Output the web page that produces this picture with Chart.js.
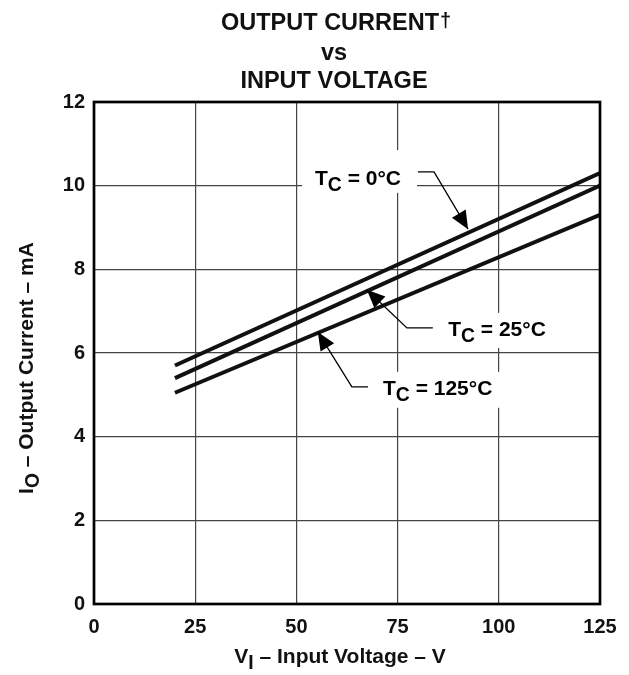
<!DOCTYPE html>
<html><head><meta charset="utf-8">
<script src="https://cdn.jsdelivr.net/npm/chart.js@4/dist/chart.umd.min.js"></script>
<style>html,body{margin:0;padding:0;background:#fff}#wrap{width:629px;height:675px}</style>
</head><body><div id="wrap"><canvas id="c" width="629" height="675"></canvas></div>
<script>
// ---- data ----
const xTicks = [0, 25, 50, 75, 100, 125];
const yTicks = [0, 2, 4, 6, 8, 10, 12];
const voltage = [20, 125];
const current0C = [5.7, 10.3];
const current25C = [5.4, 10.0];
const current125C = [5.05, 9.3];
const seriesNames = ['T_C = 0°C', 'T_C = 25°C', 'T_C = 125°C'];
const titleLines = ['OUTPUT CURRENT', 'vs', 'INPUT VOLTAGE'];

// ---- annotation layout (data units) ----
const notes = [
  { parts: [['T'], ['C', 1], [' = 0°C']], tx: 54.6, ty: 10.02, box: [51.4, 79.8, 10.85, 9.83],
    path: [[80, 10.33], [84, 10.33], [92.4, 8.96]] },
  { parts: [['T'], ['C', 1], [' = 25°C']], tx: 87.5, ty: 6.41, box: [84.5, 115.1, 6.96, 6.12],
    path: [[83.7, 6.6], [77.3, 6.6], [67.4, 7.51]] },
  { parts: [['T'], ['C', 1], [' = 125°C']], tx: 71.4, ty: 5.0, box: [68.2, 101.5, 5.55, 4.69],
    path: [[67.7, 5.19], [63.7, 5.19], [55.3, 6.5]] }
];

const F = '"Liberation Sans", Arial, Helvetica, sans-serif';

function runWidth(ctx, parts, size) {
  let w = 0;
  for (const p of parts) {
    ctx.font = `bold ${p[1] ? size * 0.92 : size}px ${F}`;
    w += ctx.measureText(p[0]).width;
  }
  return w;
}
function drawRuns(ctx, parts, x, y, size) {
  let cx = x;
  ctx.textAlign = 'left';
  ctx.textBaseline = 'alphabetic';
  for (const p of parts) {
    ctx.font = `bold ${p[1] ? size * 0.92 : size}px ${F}`;
    ctx.fillText(p[0], cx, y + (p[1] ? size * 0.3 : 0));
    cx += ctx.measureText(p[0]).width;
  }
}
function arrowHead(ctx, x0, y0, x1, y1, len, hw) {
  const a = Math.atan2(y1 - y0, x1 - x0);
  const bx = x1 - len * Math.cos(a), by = y1 - len * Math.sin(a);
  ctx.beginPath();
  ctx.moveTo(x1, y1);
  ctx.lineTo(bx + hw * Math.sin(a), by - hw * Math.cos(a));
  ctx.lineTo(bx - hw * Math.sin(a), by + hw * Math.cos(a));
  ctx.closePath();
  ctx.fill();
}

const deco = {
  id: 'deco',
  beforeDatasetsDraw(chart) {
    const { ctx, scales: { x, y } } = chart;
    ctx.save();
    ctx.fillStyle = '#fff';
    for (const n of notes) {
      const x0 = x.getPixelForValue(n.box[0]), x1 = x.getPixelForValue(n.box[1]);
      const y0 = y.getPixelForValue(n.box[2]), y1 = y.getPixelForValue(n.box[3]);
      ctx.fillRect(x0, y0, x1 - x0, y1 - y0);
    }
    ctx.restore();
  },
  afterDatasetsDraw(chart) {
    const { ctx, chartArea: ca, scales: { x, y } } = chart;
    ctx.save();
    // frame
    ctx.strokeStyle = '#000';
    ctx.lineWidth = 2.7;
    ctx.strokeRect(ca.left, ca.top, ca.right - ca.left, ca.bottom - ca.top);
    // annotations
    ctx.fillStyle = '#000';
    for (const n of notes) {
      drawRuns(ctx, n.parts, x.getPixelForValue(n.tx), y.getPixelForValue(n.ty), 21);
      const pts = n.path.map(p => [x.getPixelForValue(p[0]), y.getPixelForValue(p[1])]);
      ctx.lineWidth = 1.3;
      ctx.beginPath();
      ctx.moveTo(pts[0][0], pts[0][1]);
      for (let i = 1; i < pts.length; i++) ctx.lineTo(pts[i][0], pts[i][1]);
      ctx.stroke();
      const a = pts[pts.length - 2], b = pts[pts.length - 1];
      arrowHead(ctx, a[0], a[1], b[0], b[1], 18, 8);
    }
    ctx.restore();
  },
  afterDraw(chart) {
    const { ctx } = chart;
    ctx.save();
    ctx.fillStyle = '#111';
    ctx.textBaseline = 'alphabetic';
    // title
    ctx.font = `bold 23.5px ${F}`;
    ctx.textAlign = 'center';
    ctx.fillText(titleLines[0], 330, 30);
    const w0 = ctx.measureText(titleLines[0]).width;
    ctx.textAlign = 'left';
    ctx.font = `bold 20px ${F}`;
    ctx.fillText('†', 330 + w0 / 2 + 1, 27);
    ctx.font = `bold 23.5px ${F}`;
    ctx.textAlign = 'center';
    ctx.fillText(titleLines[1], 334, 60);
    ctx.fillText(titleLines[2], 334, 88);
    // x axis title
    const xParts = [['V'], ['I', 1], [' – Input Voltage – V']];
    const xw = runWidth(ctx, xParts, 21);
    drawRuns(ctx, xParts, 340 - xw / 2, 663, 21);
    // y axis title
    const yParts = [['I'], ['O', 1], [' – Output Current – mA']];
    const yw = runWidth(ctx, yParts, 21);
    ctx.translate(33, 368);
    ctx.rotate(-Math.PI / 2);
    drawRuns(ctx, yParts, -yw / 2, 0, 21);
    ctx.restore();
  }
};

const mk = (vals) => voltage.map((v, i) => ({ x: v, y: vals[i] }));
const ds = (label, vals) => ({
  label, data: mk(vals), borderColor: '#111', backgroundColor: '#111',
  borderWidth: 4, pointRadius: 0, fill: false, tension: 0
});
const tickFont = { family: F, size: 20, weight: 'bold' };

new Chart(document.getElementById('c'), {
  type: 'line',
  data: { datasets: [ds(seriesNames[0], current0C), ds(seriesNames[1], current25C), ds(seriesNames[2], current125C)] },
  options: {
    responsive: false, animation: false, devicePixelRatio: 1,
    layout: { padding: { top: 102, right: 29, left: 0, bottom: 0 } },
    plugins: { legend: { display: false }, title: { display: false }, tooltip: { enabled: false } },
    scales: {
      x: {
        type: 'linear', min: 0, max: 125,
        afterBuildTicks: s => { s.ticks = xTicks.map(v => ({ value: v })); },
        afterFit: s => { s.height = 71; },
        grid: { color: '#444', lineWidth: 1.2, drawTicks: false },
        border: { display: false },
        ticks: { font: tickFont, color: '#111', padding: 11, maxRotation: 0, autoSkip: false }
      },
      y: {
        type: 'linear', min: 0, max: 12,
        afterBuildTicks: s => { s.ticks = yTicks.map(v => ({ value: v })); },
        afterFit: s => { s.width = 94; },
        grid: { color: '#444', lineWidth: 1.2, drawTicks: false },
        border: { display: false },
        ticks: { font: tickFont, color: '#111', padding: 9, autoSkip: false }
      }
    }
  },
  plugins: [deco]
});
</script></body></html>
